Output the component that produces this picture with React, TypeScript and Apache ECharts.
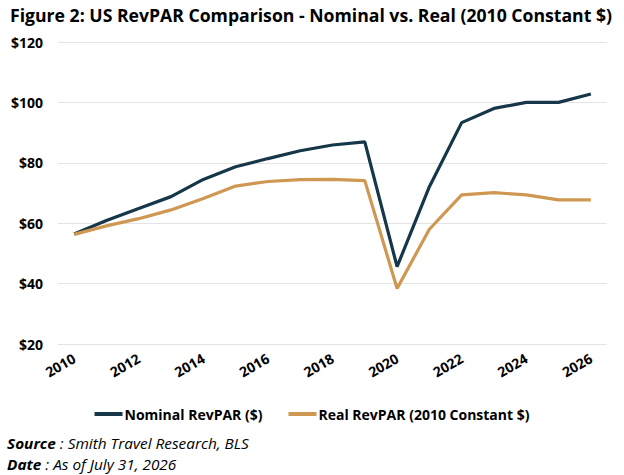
import React, { useEffect, useRef } from "react";
import * as echarts from "echarts";

const years = ["2010","2011","2012","2013","2014","2015","2016","2017","2018","2019","2020","2021","2022","2023","2024","2025","2026"];
const nominal = [56.4, 60.9, 64.9, 68.8, 74.5, 78.7, 81.4, 84.0, 85.9, 86.9, 45.6, 72.1, 93.3, 98.0, 100.0, 100.0, 102.8];
const real = [56.3, 59.1, 61.5, 64.4, 68.2, 72.3, 73.8, 74.4, 74.5, 74.1, 38.4, 58.0, 69.4, 70.1, 69.4, 67.7, 67.7];
const seriesNames = ["Nominal RevPAR ($)", "Real RevPAR (2010 Constant $)"];
const titleText = "Figure 2: US RevPAR Comparison - Nominal vs. Real (2010 Constant $)";
const sourceLabel = "Source";
const sourceText = " : Smith Travel Research, BLS";
const dateLabel = "Date";
const dateText = " : As of July 31, 2026";

const NAVY = "#163649";
const GOLD = "#cf9852";
const FONT = "'Open Sans', 'Noto Sans', sans-serif";

function measure(text: string, font: string): number {
  const c = document.createElement("canvas").getContext("2d");
  if (!c) return text.length * 8;
  c.font = font;
  return c.measureText(text).width;
}

export default function App() {
  const ref = useRef<HTMLDivElement>(null);
  useEffect(() => {
    document.body.style.margin = "0";
    const chart = echarts.init(ref.current!, null, { renderer: "svg" });

    const titleW = measure(titleText, `bold 18px ${FONT}`);
    const titleScale = 602 / titleW;
    const srcW = measure(sourceLabel, `italic bold 15px ${FONT}`) + measure(sourceText, `italic 15px ${FONT}`);
    const srcScale = 242 / srcW;

    const footLine = (label: string, text: string, y: number) => ({
      type: "text",
      x: 7,
      y,
      scaleX: srcScale,
      style: {
        text: "{b|" + label + "}{n|" + text + "}",
        verticalAlign: "middle",
        align: "left",
        fill: "#000",
        rich: {
          b: { fontFamily: FONT, fontStyle: "italic", fontWeight: "bold", fontSize: 15, fill: "#000" },
          n: { fontFamily: FONT, fontStyle: "italic", fontWeight: "normal", fontSize: 15, fill: "#000" },
        },
      },
    });

    chart.setOption({
      animation: false,
      backgroundColor: "#ffffff",
      grid: { left: 58, right: 17, top: 42, bottom: 131 },
      legend: {
        data: seriesNames,
        top: 402,
        left: "center",
        icon: "rect",
        itemWidth: 28,
        itemHeight: 4,
        itemGap: 26,
        textStyle: { fontFamily: FONT, fontWeight: "bold", fontSize: 14, color: "#000", padding: [0, 0, 0, -3] },
      },
      xAxis: {
        type: "category",
        data: years,
        boundaryGap: true,
        axisLine: { show: false },
        axisTick: { show: false },
        axisLabel: {
          interval: 1,
          rotate: 30,
          margin: 13,
          fontFamily: FONT,
          fontWeight: "bold",
          fontSize: 14,
          color: "#000",
        },
      },
      yAxis: {
        type: "value",
        min: 20,
        max: 120,
        interval: 20,
        axisLine: { show: false },
        axisTick: { show: false },
        splitLine: { lineStyle: { color: "#e4e4e4", width: 1 } },
        axisLabel: {
          formatter: (v: number) => "$" + v,
          align: "right",
          margin: 15,
          fontFamily: FONT,
          fontWeight: "bold",
          fontSize: 14,
          color: "#000",
        },
      },
      series: [
        { name: seriesNames[0], type: "line", data: nominal, showSymbol: false, symbol: "none", lineStyle: { color: NAVY, width: 3.2 }, itemStyle: { color: NAVY } },
        { name: seriesNames[1], type: "line", data: real, showSymbol: false, symbol: "none", lineStyle: { color: GOLD, width: 3.2 }, itemStyle: { color: GOLD } },
      ],
      graphic: [
        {
          type: "text",
          x: 10,
          y: 15,
          scaleX: titleScale,
          style: {
            text: titleText,
            fontFamily: FONT,
            fontWeight: "bold",
            fontSize: 18,
            fill: "#000",
            verticalAlign: "middle",
            align: "left",
          },
        },
        footLine(sourceLabel, sourceText, 443),
        footLine(dateLabel, dateText, 464),
      ],
    });
    return () => chart.dispose();
  }, []);
  return <div ref={ref} style={{ position: "fixed", left: 0, top: 0, width: 624, height: 475 }} />;
}
